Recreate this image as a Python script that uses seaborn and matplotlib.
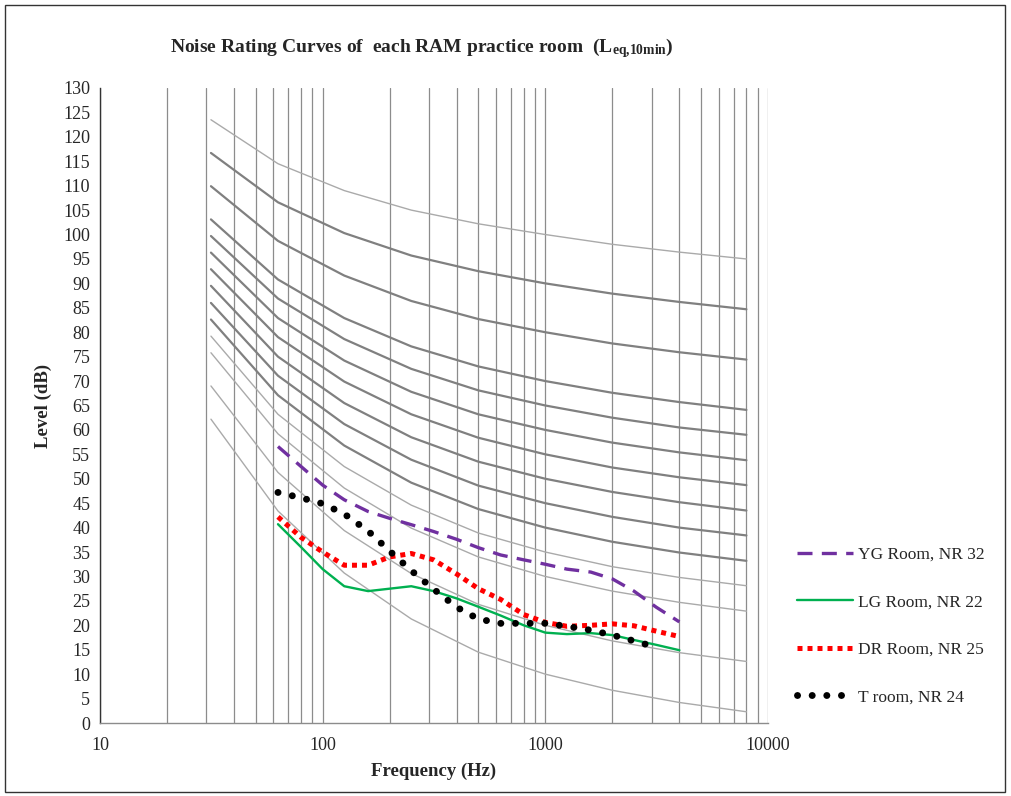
import numpy as np
import pandas as pd
import matplotlib
matplotlib.use("Agg")
import matplotlib.pyplot as plt
from matplotlib.ticker import LogLocator, NullFormatter, FixedLocator
from matplotlib.patches import Rectangle
import seaborn as sns

# ---------------- data ----------------
nr_freqs = [31.5, 63, 125, 250, 500, 1000, 2000, 4000, 8000]
nr10 = [62.2, 43.4, 30.7, 21.3, 14.5, 10.0, 6.7, 4.2, 2.3]
nr20 = [69.0, 51.3, 39.4, 30.6, 24.3, 20.0, 16.8, 14.4, 12.6]
nr30 = [75.8, 59.2, 48.1, 39.9, 34.0, 30.0, 27.0, 24.7, 22.9]
nr35 = [79.2, 63.2, 52.5, 44.6, 38.9, 35.0, 32.0, 29.8, 28.1]
nr40 = [82.6, 67.1, 56.8, 49.2, 43.8, 40.0, 37.1, 34.9, 33.2]
nr45 = [86.0, 71.1, 61.2, 53.9, 48.6, 45.0, 42.2, 40.0, 38.4]
nr50 = [89.5, 75.0, 65.5, 58.5, 53.5, 50.0, 47.3, 45.2, 43.5]
nr55 = [92.9, 79.0, 69.9, 63.2, 58.4, 55.0, 52.3, 50.3, 48.7]
nr60 = [96.3, 82.9, 74.2, 67.8, 63.2, 60.0, 57.4, 55.4, 53.8]
nr65 = [99.7, 86.9, 78.6, 72.5, 68.1, 65.0, 62.5, 60.5, 59.0]
nr70 = [103.1, 90.8, 82.9, 77.1, 73.0, 70.0, 67.6, 65.7, 64.1]
nr80 = [109.9, 98.7, 91.6, 86.4, 82.7, 80.0, 77.7, 75.9, 74.4]
nr90 = [116.7, 106.6, 100.3, 95.7, 92.5, 90.0, 87.9, 86.2, 84.7]
nr100 = [123.5, 114.5, 109.0, 105.0, 102.2, 100.0, 98.0, 96.4, 95.0]

thin_curves = [nr10, nr20, nr30, nr35, nr100]
thick_curves = [nr40, nr45, nr50, nr55, nr60, nr65, nr70, nr80, nr90]

room_freqs = [63, 80, 100, 125, 160, 200, 250, 315, 400, 500, 630, 800,
              1000, 1250, 1600, 2000, 2500, 3150, 4000]
yg_room = [56.6, 52.5, 48.7, 45.7, 43.3, 41.9, 40.6, 39.2, 37.6, 35.9, 34.4,
           33.4, 32.5, 31.5, 30.9, 29.5, 27.0, 23.7, 20.7]
lg_room = [40.7, 36.0, 31.5, 28.0, 27.0, 27.5, 28.0, 27.0, 25.5, 23.8, 22.0,
           20.0, 18.5, 18.2, 18.4, 18.0, 17.0, 16.0, 14.9]
dr_room = [42.2, 38.0, 35.0, 32.3, 32.3, 34.0, 34.7, 33.4, 30.5, 27.5, 25.3,
           22.2, 20.6, 19.8, 20.0, 20.3, 19.9, 18.8, 17.7]
t_freqs = [63, 80, 100, 125, 160, 200, 250, 315, 400, 500, 630, 800,
           1000, 1250, 1600, 2000, 2500, 3150]
t_room = [47.2, 46.1, 44.9, 42.8, 39.3, 35.2, 31.2, 27.4, 23.7, 21.3, 20.4,
          20.4, 20.4, 19.8, 19.0, 18.0, 16.8, 15.5]

room_labels = ["YG Room, NR 32", "LG Room, NR 22", "DR Room, NR 25", "T room, NR 24"]
x_tick_values = [10, 100, 1000, 10000]
x_tick_labels = ["10", "100", "1000", "10000"]
y_tick_values = list(range(0, 131, 5))

# ---------------- style ----------------
sns.set_style("white")
plt.rcParams["font.family"] = ["Liberation Serif", "DejaVu Serif"]
plt.rcParams["mathtext.fontset"] = "custom"
plt.rcParams["mathtext.rm"] = "Liberation Serif"
plt.rcParams["mathtext.bf"] = "Liberation Serif:bold"
plt.rcParams["mathtext.it"] = "Liberation Serif:italic"

fig = plt.figure(figsize=(10.11, 7.96), dpi=100)
ax = fig.add_axes([100 / 1011, 1 - 723 / 796, (768 - 100) / 1011, (723 - 88) / 796])

# NR reference curves
for curve in thick_curves:
    sns.lineplot(x=nr_freqs, y=curve, ax=ax, color="#808080", linewidth=1.6,
                 legend=False, zorder=2)
for curve in thin_curves:
    sns.lineplot(x=nr_freqs, y=curve, ax=ax, color="#AAAAAA", linewidth=1.0,
                 legend=False, zorder=2)

# room curves
sns.lineplot(x=room_freqs, y=yg_room, ax=ax, color="#7030A0", linewidth=2.4,
             linestyle=(0, (4.5, 2.8)), legend=False, zorder=4)
h_yg = ax.lines[-1]
sns.lineplot(x=room_freqs, y=lg_room, ax=ax, color="#00B050", linewidth=1.7,
             legend=False, zorder=4)
h_lg = ax.lines[-1]
sns.lineplot(x=room_freqs, y=dr_room, ax=ax, color="#FF0000", linewidth=3.6,
             linestyle=(0, (1, 1)), legend=False, zorder=4)
h_dr = ax.lines[-1]
sns.lineplot(x=t_freqs, y=t_room, ax=ax, color="black", linewidth=5.0,
             linestyle=(0, (0.01, 2.1)), legend=False, zorder=5)
h_t = ax.lines[-1]
h_t.set_dash_capstyle("round")
h_dr.set_dash_capstyle("butt")
h_yg.set_dash_capstyle("butt")

ax.set_xscale("log")
ax.set_xlim(10, 10000)
ax.set_ylim(0, 130)

ax.xaxis.set_major_locator(FixedLocator(x_tick_values))
ax.set_xticklabels(x_tick_labels)
ax.xaxis.set_minor_locator(LogLocator(base=10, subs=np.arange(2, 10)))
ax.xaxis.set_minor_formatter(NullFormatter())
ax.set_yticks(y_tick_values)

ax.grid(True, which="both", axis="x", color="#8C8C8C", linewidth=0.9, zorder=1)
ax.grid(False, axis="y")

for side in ["top", "right"]:
    ax.spines[side].set_visible(False)
ax.spines["left"].set_color("#333333")
ax.spines["bottom"].set_color("#8C8C8C")
ax.spines["left"].set_linewidth(1.0)
ax.spines["bottom"].set_linewidth(1.0)

ax.tick_params(axis="both", which="major", direction="out", length=4,
               width=0.9, color="#555555", labelsize=13, pad=3)
ax.tick_params(axis="x", which="minor", direction="out", length=3,
               width=0.8, color="#8C8C8C")
ax.tick_params(axis="x", which="major", pad=6)

ax.set_xlabel("Frequency (Hz)", fontsize=13.5, fontweight="bold", labelpad=6)
ax.set_ylabel("Level (dB)", fontsize=13.5, fontweight="bold", labelpad=8)

fig.text(422 / 1011, 1 - 48 / 796,
         r"Noise Rating Curves of  each RAM practice room  (L$_{\mathbf{eq{,}10min}}$)",
         ha="center", va="center", fontsize=14, fontweight="bold")

leg = ax.legend([h_yg, h_lg, h_dr, h_t], room_labels,
                loc="upper left", bbox_to_anchor=(790 / 1011, 1 - 540 / 796),
                bbox_transform=fig.transFigure, frameon=False, fontsize=12.5,
                handlelength=3.2, handletextpad=0.3, labelspacing=1.8,
                borderaxespad=0)

# outer chart border
fig.patches.append(Rectangle((5 / 1011, 4 / 796), 1000 / 1011, 787 / 796,
                             transform=fig.transFigure, fill=False,
                             edgecolor="#333333", linewidth=1.0))

fig.savefig("out.png", dpi=100)
